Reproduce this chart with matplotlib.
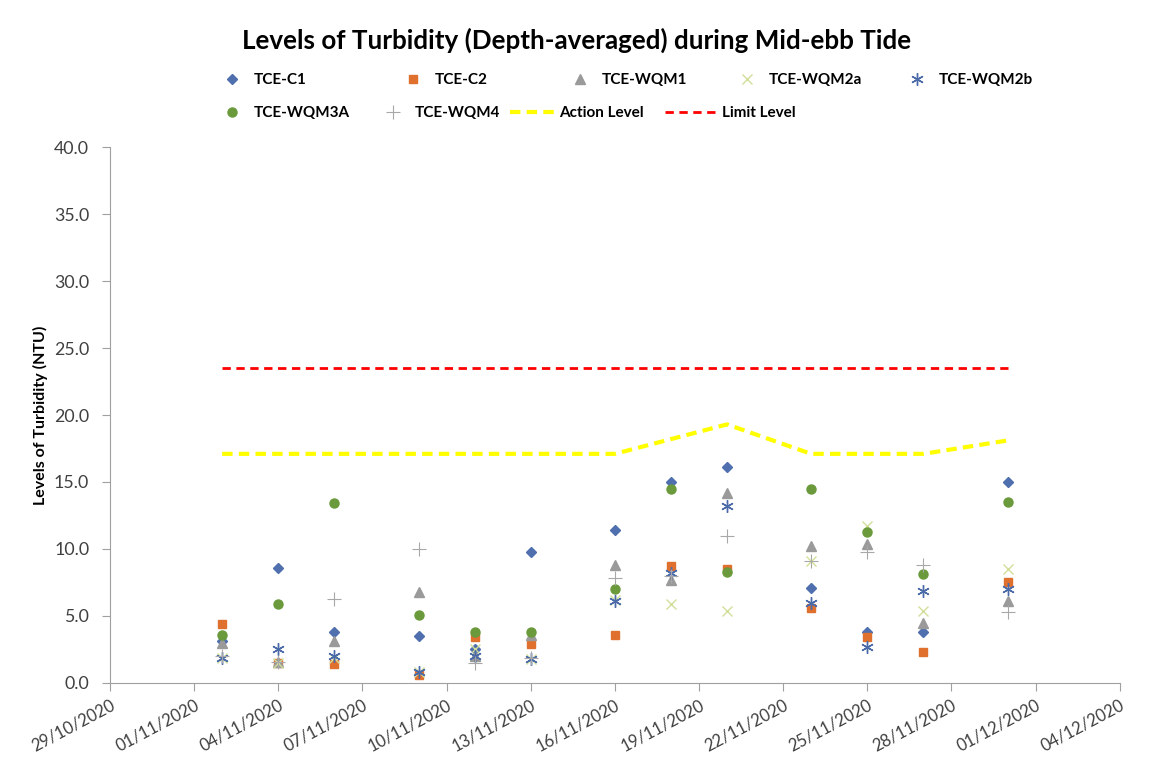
import matplotlib
matplotlib.use("Agg")
import matplotlib.pyplot as plt
import matplotlib.dates as mdates
import numpy as np
import pandas as pd

plt.rcParams["font.family"] = ["Lato", "DejaVu Sans"]

# Fechas de muestreo
dates = pd.to_datetime([
    "2020-11-02", "2020-11-04", "2020-11-06", "2020-11-09", "2020-11-11",
    "2020-11-13", "2020-11-16", "2020-11-18", "2020-11-20", "2020-11-23",
    "2020-11-25", "2020-11-27", "2020-11-30",
])

# Turbidez por estacion (NTU)
tce_c1 = [3.1, 8.6, 3.8, 3.5, 2.5, 9.8, 11.4, 15.0, 16.1, 7.1, 3.8, 3.8, 15.0]
tce_c2 = [4.4, 1.5, 1.4, 0.6, 3.4, 2.9, 3.6, 8.7, 8.5, 5.6, 3.4, 2.3, 7.5]
tce_wqm1 = [3.0, 1.6, 3.1, 6.8, 2.0, 3.6, 8.8, 7.7, 14.2, 10.2, 10.4, 4.5, 6.1]
tce_wqm2a = [1.9, 1.5, 1.9, 0.8, 2.5, 1.8, 6.2, 5.9, 5.4, 9.1, 11.7, 5.4, 8.5]
tce_wqm2b = [1.9, 2.5, 2.0, 0.8, 2.0, 1.8, 6.1, 8.2, 13.2, 6.0, 2.7, 6.9, 7.0]
tce_wqm3a = [3.6, 5.9, 13.4, 5.1, 3.8, 3.8, 7.0, 14.5, 8.3, 14.5, 11.3, 8.1, 13.5]
tce_wqm4 = [2.0, 1.6, 6.3, 10.0, 1.5, 1.9, 7.8, 8.0, 11.0, 9.1, 9.8, 8.8, 5.3]
action_level = [17.1, 17.1, 17.1, 17.1, 17.1, 17.1, 17.1, 18.2, 19.3, 17.1, 17.1, 17.1, 18.1]
limit_level = [23.5] * 13

W, H = 1154, 758
fig = plt.figure(figsize=(W / 100, H / 100), dpi=100)
ax = fig.add_axes([0.0953, 0.099, 0.875, 0.707])

h = {}
h["c1"], = ax.plot(dates, tce_c1, ls="none", marker="D", ms=5, color="#4f6fae", label="TCE-C1")
h["c2"], = ax.plot(dates, tce_c2, ls="none", marker="s", ms=6, color="#e0702e", label="TCE-C2")
h["w1"], = ax.plot(dates, tce_wqm1, ls="none", marker="^", ms=7, color="#9a9a9a", label="TCE-WQM1")
h["w2a"], = ax.plot(dates, tce_wqm2a, ls="none", marker="x", ms=7, mew=1.0, color="#d2df98", label="TCE-WQM2a")
h["w2b"], = ax.plot(dates, tce_wqm2b, ls="none", marker=(6, 2, 0), ms=9, mew=1.0, color="#4a6aa8", label="TCE-WQM2b")
h["w3a"], = ax.plot(dates, tce_wqm3a, ls="none", marker="o", ms=6.5, color="#6a9a3c", label="TCE-WQM3A")
h["w4"], = ax.plot(dates, tce_wqm4, ls="none", marker="+", ms=10, mew=0.8, color="#a8a8a8", label="TCE-WQM4")
h["al"], = ax.plot(dates, action_level, ls=(0, (2.5, 1.5)), lw=3, color="#ffff00", label="Action Level")
h["ll"], = ax.plot(dates, limit_level, ls=(0, (3, 2)), lw=2, color="#ff0000", label="Limit Level")

ax.set_ylim(0, 40)
ax.set_yticks(np.arange(0, 40.1, 5))
ax.yaxis.set_major_formatter(plt.FuncFormatter(lambda v, p: f"{v:.1f}"))
ax.set_xlim(pd.Timestamp("2020-10-29"), pd.Timestamp("2020-12-04"))
ax.set_xticks(pd.date_range("2020-10-29", "2020-12-04", freq="3D"))
ax.xaxis.set_major_formatter(mdates.DateFormatter("%d/%m/%Y"))

for lab in ax.get_xticklabels():
    lab.set_rotation(28)
    lab.set_ha("right")
    lab.set_rotation_mode("anchor")
ax.tick_params(axis="both", labelsize=12, colors="#404040", length=6, color="#a0a0a0")
ax.tick_params(axis="y", labelsize=12.8, pad=9)
ax.tick_params(axis="x", pad=4)

for s in ["top", "right"]:
    ax.spines[s].set_visible(False)
for s in ["left", "bottom"]:
    ax.spines[s].set_color("#a0a0a0")

ax.set_ylabel("Levels of Turbidity (NTU)", fontsize=11.5, fontweight="bold", labelpad=4)

fig.text(0.5, 1 - 40 / H, "Levels of Turbidity (Depth-averaged) during Mid-ebb Tide",
         ha="center", va="center", fontsize=18.7, fontweight="bold")

# Leyenda estilo Excel: cada entrada en su sitio (px del borde izquierdo, fila)
legend_items = [
    ("c1", 223, 80, 1.2, 0.8),
    ("c2", 404, 80, 1.2, 0.8),
    ("w1", 571, 80, 1.2, 0.8),
    ("w2a", 738, 80, 1.2, 0.8),
    ("w2b", 908, 80, 1.2, 0.8),
    ("w3a", 223, 113, 1.2, 0.8),
    ("w4", 384, 113, 1.2, 0.8),
    ("al", 510, 113, 3.0, 0.2),
    ("ll", 665, 113, 3.6, 0.15),
]
for key, x0, y0, hl, tp in legend_items:
    fig.legend([h[key]], [h[key].get_label()], loc="center left",
               bbox_to_anchor=(x0 / W, 1 - y0 / H), frameon=False,
               prop={"weight": "bold", "size": 11}, handlelength=hl,
               handletextpad=tp, borderpad=0, borderaxespad=0)

fig.savefig("out.png", dpi=100)
